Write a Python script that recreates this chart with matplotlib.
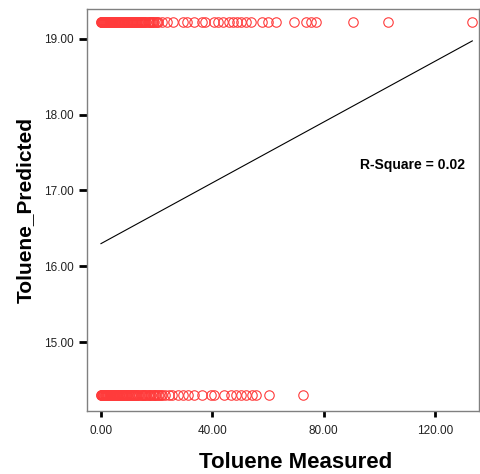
import matplotlib
matplotlib.use("Agg")
import matplotlib.pyplot as plt
import numpy as np

top_level = 19.215
top_x = [0.1, 0.2, 0.3, 0.5, 0.6, 0.8, 1.0, 1.1, 1.3, 1.4, 1.6, 1.8, 2.0,
         2.1, 2.3, 2.5, 2.7, 2.9, 3.1, 3.3, 3.5, 3.7, 3.9, 4.1, 4.4, 4.6,
         4.8, 5.0, 5.3, 5.5, 5.8, 6.0, 6.2, 6.4, 6.7, 6.9, 7.2, 7.4, 7.7,
         7.9, 8.2, 8.5, 8.8, 9.0, 9.3, 9.6, 9.9, 10.2, 10.5, 10.8, 11.1,
         11.4, 11.7, 12.0, 12.4, 12.7, 13.0, 13.4, 13.8, 14.1, 14.5, 14.8,
         15.2, 15.6, 16.0, 16.4, 16.8, 17.2, 17.6, 18.0, 18.5, 18.9, 19.3,
         19.8, 20.2, 20.7, 22.0, 23.7, 26.0, 29.7, 31.0, 33.3, 36.2, 37.3,
         40.8, 42.0, 44.0, 46.0, 47.5, 49.0, 50.5, 52.0, 54.0, 58.0, 60.1,
         63.0, 69.4, 73.7, 75.5, 77.3, 90.5, 103.0, 133.3]
bottom_level = 14.31
bottom_x = [0.1, 0.2, 0.4, 0.5, 0.7, 0.9, 1.0, 1.2, 1.4, 1.6, 1.8, 2.0, 2.2,
            2.4, 2.6, 2.8, 3.0, 3.2, 3.5, 3.7, 3.9, 4.1, 4.4, 4.6, 4.9, 5.1,
            5.4, 5.6, 5.9, 6.1, 6.4, 6.6, 6.9, 7.2, 7.5, 7.8, 8.1, 8.4, 8.7,
            9.0, 9.3, 9.6, 10.0, 10.3, 10.7, 11.0, 11.4, 11.7, 12.1, 12.4,
            12.8, 13.1, 13.5, 13.9, 14.3, 14.7, 15.1, 15.5, 16.0, 16.4, 16.9,
            17.3, 17.8, 18.2, 18.7, 19.1, 19.6, 20.0, 20.5, 21.0, 21.5, 22.0,
            23.1, 24.5, 25.6, 27.6, 29.4, 31.2, 33.3, 36.2, 39.7, 40.8, 44.4,
            46.9, 48.7, 50.5, 52.3, 54.4, 55.8, 60.5, 72.6]

fit_intercept = 16.298
fit_slope = 0.02005
r_square = 0.02

x_ticks = [0, 40, 80, 120]
y_ticks = [15, 16, 17, 18, 19]

fig = plt.figure(figsize=(4.81, 4.74), dpi=100)
ax = fig.add_axes([87/481, (474-410.7)/474, (479-87)/481, (410.7-9.3)/474])

red = '#FF3B3B'
ax.plot(top_x, [top_level]*len(top_x), linestyle='none', marker='o',
        markersize=6.8, markerfacecolor='none', markeredgecolor=red,
        markeredgewidth=0.8)
ax.plot(bottom_x, [bottom_level]*len(bottom_x), linestyle='none', marker='o',
        markersize=6.8, markerfacecolor='none', markeredgecolor=red,
        markeredgewidth=0.8)

all_x = np.array(top_x + bottom_x)
lx = np.array([all_x.min(), all_x.max()])
ax.plot(lx, fit_intercept + fit_slope*lx, color='black', linewidth=0.8)

ax.set_xlim(-4.91, 135.7)
ax.set_ylim(14.099, 19.387)
ax.set_xticks(x_ticks)
ax.set_xticklabels([f"{v:.2f}" for v in x_ticks])
ax.set_yticks(y_ticks)
ax.set_yticklabels([f"{v:.2f}" for v in y_ticks])

for s in ax.spines.values():
    s.set_color('#808080')
    s.set_linewidth(1.0)

ax.tick_params(axis='both', direction='out', color='black', width=2.0,
               labelsize=8.5, labelcolor='#222222')
ax.tick_params(axis='y', length=6, pad=3.5)
ax.tick_params(axis='x', length=4.5, pad=6)
for lab in ax.get_xticklabels() + ax.get_yticklabels():
    lab.set_family('Liberation Sans')

fig.text(25/481, 1 - 210/474, 'Toluene_Predicted', rotation=90,
         ha='center', va='center', fontsize=15, fontweight='bold',
         family='Liberation Sans')
fig.text(296/481, 1 - 462/474, 'Toluene Measured', ha='center', va='center',
         fontsize=16, fontweight='bold', family='Liberation Sans')
fig.text(360/481, 1 - 165/474, f'R-Square = {r_square:.2f}', ha='left',
         va='center', fontsize=10, fontweight='bold', family='Liberation Sans')

fig.savefig('out.png', dpi=100)
